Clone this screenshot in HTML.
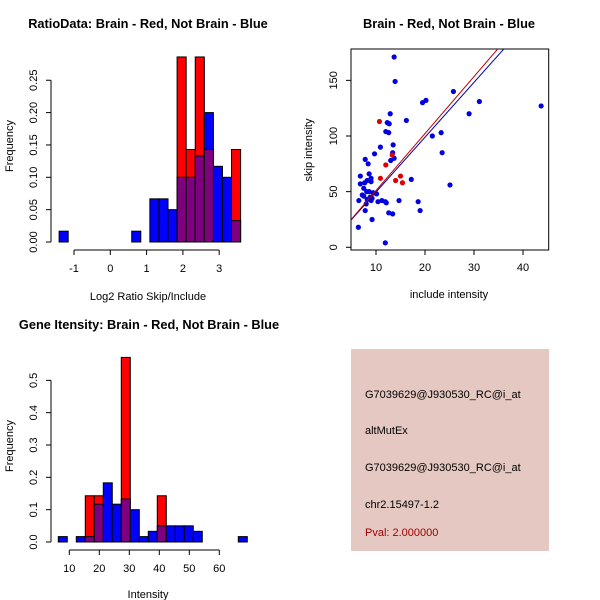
<!DOCTYPE html>
<html><head><meta charset="utf-8"><style>
body{margin:0;background:#fff;}
svg{display:block;font-family:"Liberation Sans",sans-serif;}
</style></head><body>
<svg width="600" height="600" viewBox="0 0 600 600">
<g id="p1"></g>
<g id="p2"></g>
<g id="p3"></g>
<g>
<rect x="351" y="349" width="198" height="202" fill="#e6c8c2"/>
<text x="365" y="398" font-size="11">G7039629@J930530_RC@i_at</text>
<text x="365" y="434" font-size="11">altMutEx</text>
<text x="365" y="471" font-size="11">G7039629@J930530_RC@i_at</text>
<text x="365" y="508" font-size="11">chr2.15497-1.2</text>
<text x="365" y="536" font-size="11" fill="#a00000">Pval: 2.000000</text>
</g>
</svg>
<script>
// ---- Plot 1 data: Log2 ratio histogram
const ratioBinStart = -1.41;
const ratioBinWidth = 0.25;
const ratioBlue = [0.0167,0,0,0,0,0,0,0,0.0167,0,0.0667,0.0667,0.05,0.10,0.10,0.133,0.20,0.117,0.10,0.033];
const ratioRed  = [0,0,0,0,0,0,0,0,0,0,0,0,0,0.286,0.143,0.286,0.143,0,0,0.143];
const ratioXTicks = [-1,0,1,2,3];
const ratioYTicks = [0,0.05,0.10,0.15,0.20,0.25];
const ratioYLabels = ["0.00","0.05","0.10","0.15","0.20","0.25"];
// ---- Plot 3 data: intensity histogram
const intBinStart = 6.33;
const intBinWidth = 3;
const intBlue = [0.0167,0,0.0167,0.0167,0.117,0.183,0.117,0.133,0.10,0.0167,0.033,0.05,0.05,0.05,0.05,0.033,0,0,0,0,0.0167];
const intRed  = [0,0,0,0.143,0.143,0,0,0.571,0,0,0,0.143,0,0,0,0,0,0,0,0,0];
const intXTicks = [10,20,30,40,50,60];
const intYTicks = [0,0.1,0.2,0.3,0.4,0.5];
const intYLabels = ["0.0","0.1","0.2","0.3","0.4","0.5"];
// ---- Plot 2 data: scatter
const blueX = [13.7,13.9,25.8,20.2,19.5,31.1,43.7,29.0,12.9,16.2,12.3,12.7,12.0,12.6,21.5,23.3,13.5,10.9,13.4,13.7,13.0,9.7,7.8,8.4,23.5,25.1,17.2,6.8,8.6,9.0,8.2,9.0,7.7,6.8,7.5,8.1,8.6,9.4,10.1,7.2,7.5,8.8,8.2,9.2,9.0,8.0,6.5,10.4,11.2,11.9,12.1,14.7,18.6,19.0,7.8,12.6,13.4,9.2,6.4,11.9];
const blueY = [171,149,140,132,130,131,127,120,120,114,112,111,104,103,100,103,92,90,85,80,78,84,79,75,85,56,61,64,66,62,60,59,58,57,53,50,50,49,48,47,46,45,43,44,42,39,42,41,42,41,40,42,41,33,33,31,30,25,18,4];
const redX = [10.7,10.9,12.0,13.3,14.0,15.0,15.4];
const redY = [113,62,74,83,60,64,58];
const fitRed = [-0.2,5.12];
const fitBlue = [0.3,4.93];
const scXTicks = [10,20,30,40];
const scYTicks = [0,50,100,150];

const NS="http://www.w3.org/2000/svg";
function mk(parent,tag,attrs){const e=document.createElementNS(NS,tag);for(const k in attrs)e.setAttribute(k,attrs[k]);parent.appendChild(e);return e;}
function txt(parent,x,y,s,size,extra){const t=mk(parent,'text',Object.assign({x:x,y:y,'font-size':size,'text-anchor':'middle'},extra||{}));t.textContent=s;return t;}

function hist(g,cfg){
  const sx=v=>cfg.x0px+(v-cfg.x0)*cfg.kx, sy=v=>cfg.y0px-v*cfg.ky;
  for(let i=0;i<cfg.blue.length;i++){
    const b=cfg.blue[i], r=cfg.red[i];
    const l=sx(cfg.binStart+i*cfg.binW), w=cfg.binW*cfg.kx;
    const hi=Math.max(b,r), lo=Math.min(b,r);
    if(hi>0){const e=mk(g,'rect',{x:l,y:sy(hi),width:w,height:sy(0)-sy(hi),fill:b>=r?'#0000ff':'#ff0000',stroke:'#000','stroke-width':1});
      
      }
    if(lo>0){const e=mk(g,'rect',{x:l,y:sy(lo),width:w,height:sy(0)-sy(lo),fill:'#7f007f',stroke:'#000','stroke-width':1});
      
      }
  }
  const xa=mk(g,'g',{});
  
  
  const xt=cfg.xTicks;
  mk(xa,'line',{x1:sx(xt[0]),x2:sx(xt[xt.length-1]),y1:cfg.axY,y2:cfg.axY,stroke:'#000'});
  xt.forEach(v=>{mk(xa,'line',{x1:sx(v),x2:sx(v),y1:cfg.axY,y2:cfg.axY+5,stroke:'#000'});txt(xa,sx(v),cfg.axY+22,String(v),11);});
  const ya=mk(g,'g',{});
  
  
  const yt=cfg.yTicks;
  mk(ya,'line',{x1:cfg.axX,x2:cfg.axX,y1:sy(yt[0]),y2:sy(yt[yt.length-1]),stroke:'#000'});
  yt.forEach((v,i)=>{mk(ya,'line',{x1:cfg.axX-5,x2:cfg.axX,y1:sy(v),y2:sy(v),stroke:'#000'});
    txt(ya,cfg.axX-14,sy(v),cfg.yLabels[i],11,{transform:`rotate(-90 ${cfg.axX-14} ${sy(v)})`});});
}

hist(document.getElementById('p1'),{x0:0,x0px:110.3,kx:36.3,y0px:242,ky:647,binStart:ratioBinStart,binW:ratioBinWidth,blue:ratioBlue,red:ratioRed,xTicks:ratioXTicks,yTicks:ratioYTicks,yLabels:ratioYLabels,axY:250,axX:51});
hist(document.getElementById('p3'),{x0:10,x0px:69.3,kx:3,y0px:542,ky:323.3,binStart:intBinStart,binW:intBinWidth,blue:intBlue,red:intRed,xTicks:intXTicks,yTicks:intYTicks,yLabels:intYLabels,axY:550,axX:51});

const p1=document.getElementById('p1');
txt(p1,148,28,'RatioData: Brain - Red, Not Brain - Blue',12.8,{'font-weight':'bold',});
txt(p1,148,300,'Log2 Ratio Skip/Include',11,{});
txt(p1,13,146,'Frequency',11,{transform:'rotate(-90 13 146)',});
const p3=document.getElementById('p3');
txt(p3,149,329,'Gene Itensity: Brain - Red, Not Brain - Blue',12.8,{'font-weight':'bold',});
txt(p3,148,598,'Intensity',11,{});
txt(p3,13,446,'Frequency',11,{transform:'rotate(-90 13 446)',});

const p2=document.getElementById('p2');
const bx0=351,bx1=548.7,by0=49,by1=250;
const sx2=v=>327+v*4.9, sy2=v=>247.3-v*1.113;
mk(p2,'rect',{x:bx0,y:by0,width:bx1-bx0,height:by1-by0,fill:'none',stroke:'#000'});
const cp=mk(p2,'clipPath',{id:'c2'});mk(cp,'rect',{x:bx0,y:by0,width:bx1-bx0,height:by1-by0});
for(let i=0;i<blueX.length;i++){const c=mk(p2,'circle',{cx:sx2(blueX[i]),cy:sy2(blueY[i]),r:2.6,fill:'#0000e0'});
  
  }
for(let i=0;i<redX.length;i++){const c=mk(p2,'circle',{cx:sx2(redX[i]),cy:sy2(redY[i]),r:2.6,fill:'#e00000'});
  
  }
[[fitBlue,'#0000a0','fit-line-blue'],[fitRed,'#c00000','fit-line-red']].forEach(([f,col,nm])=>{
  const l=mk(p2,'line',{x1:sx2(0),y1:sy2(f[0]),x2:sx2(50),y2:sy2(f[0]+f[1]*50),stroke:col,'stroke-width':1,'clip-path':'url(#c2)'});
  
  
});
scXTicks.forEach(v=>{mk(p2,'line',{x1:sx2(v),x2:sx2(v),y1:by1,y2:by1+5,stroke:'#000'});txt(p2,sx2(v),by1+21,String(v),11);});
scYTicks.forEach(v=>{mk(p2,'line',{x1:bx0-5,x2:bx0,y1:sy2(v),y2:sy2(v),stroke:'#000'});txt(p2,bx0-14,sy2(v),String(v),11,{transform:`rotate(-90 ${bx0-14} ${sy2(v)})`});});
txt(p2,449,28,'Brain - Red, Not Brain - Blue',12.8,{'font-weight':'bold',});
txt(p2,449,298,'include intensity',11,{});
txt(p2,312,150,'skip intensity',11,{transform:'rotate(-90 312 150)',});
</script>
</body></html>
